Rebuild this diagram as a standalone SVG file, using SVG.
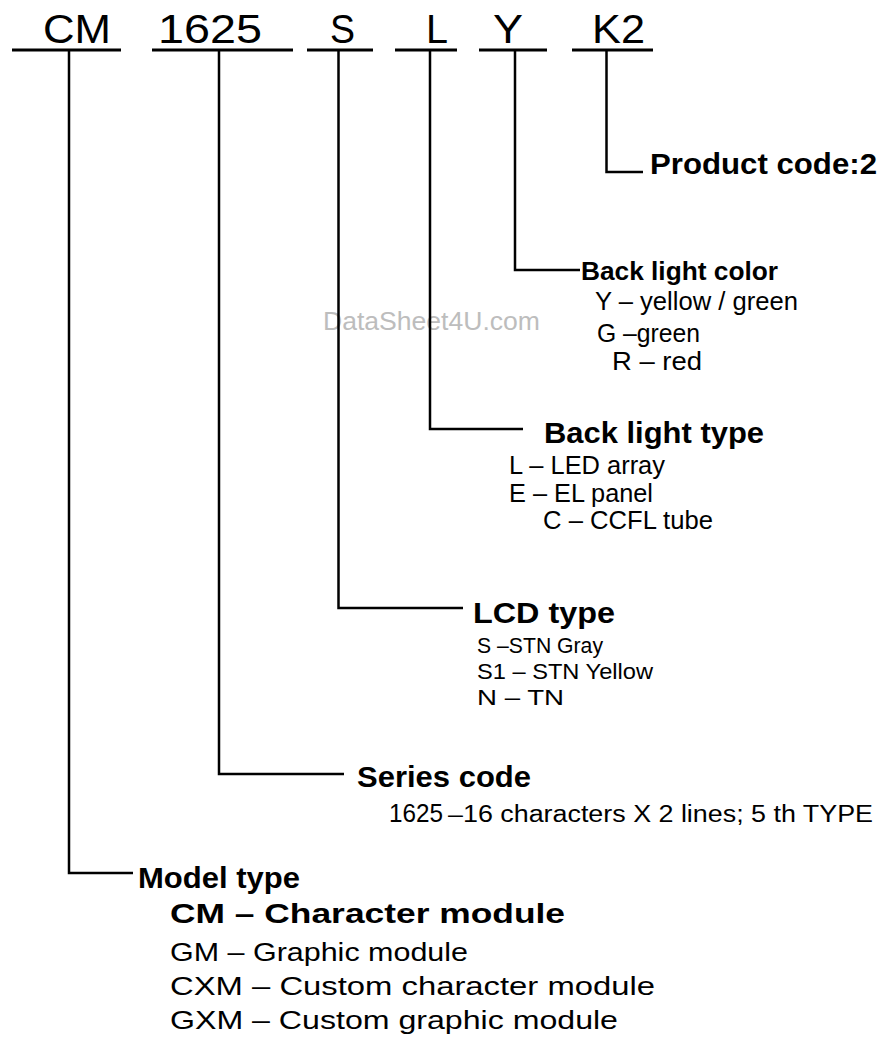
<svg xmlns="http://www.w3.org/2000/svg" width="880" height="1038" viewBox="0 0 880 1038">
<style>
text{font-family:"Liberation Sans",Arial,sans-serif;fill:#000}
.hd{font-size:41px}
.b{font-weight:bold}
.h1{font-size:29px;font-weight:bold}
.r{font-size:26px}
.s{font-size:22px}
.wm{font-size:26px;fill:#bdbdbd}
.ul{stroke:#000;stroke-width:3;fill:none}
.cn{stroke:#000;stroke-width:2.5;fill:none}
</style>
<rect width="880" height="1038" fill="#fff"/>
<g id="watermark"><text class="wm" x="323" y="330" textLength="217" lengthAdjust="spacingAndGlyphs">DataSheet4U.com</text></g>
<g id="header">
<text class="hd" x="43" y="43" textLength="68" lengthAdjust="spacingAndGlyphs">CM</text>
<text class="hd" x="158" y="43" textLength="104" lengthAdjust="spacingAndGlyphs">1625</text>
<text class="hd" x="330" y="43" textLength="25" lengthAdjust="spacingAndGlyphs">S</text>
<text class="hd" x="426" y="43" textLength="22" lengthAdjust="spacingAndGlyphs">L</text>
<text class="hd" x="493" y="43" textLength="30" lengthAdjust="spacingAndGlyphs">Y</text>
<text class="hd" x="592" y="43" textLength="53" lengthAdjust="spacingAndGlyphs">K2</text>
<line class="ul" x1="12" y1="50" x2="121" y2="50"/>
<line class="ul" x1="152" y1="50" x2="293" y2="50"/>
<line class="ul" x1="307" y1="50" x2="373" y2="50"/>
<line class="ul" x1="395" y1="50" x2="457" y2="50"/>
<line class="ul" x1="479" y1="50" x2="547" y2="50"/>
<line class="ul" x1="572" y1="50" x2="653" y2="50"/>
</g>
<g id="connectors">
<polyline class="cn" points="69,50 69,873 133,873"/>
<polyline class="cn" points="219,50 219,774 344,774"/>
<polyline class="cn" points="338.5,50 338.5,608 463,608"/>
<polyline class="cn" points="430,50 430,429 523,429"/>
<polyline class="cn" points="515,50 515,270 580,270"/>
<polyline class="cn" points="606.5,50 606.5,172 643,172"/>
</g>
<g id="product-code">
<text class="h1" x="650" y="174" textLength="227" lengthAdjust="spacingAndGlyphs">Product code:2</text>
</g>
<g id="back-light-color">
<text class="b" style="font-size:25px" x="581" y="280" textLength="197" lengthAdjust="spacingAndGlyphs">Back light color</text>
<text class="r" x="595" y="310" textLength="203" lengthAdjust="spacingAndGlyphs">Y – yellow / green</text>
<text class="r" x="597" y="342" textLength="103" lengthAdjust="spacingAndGlyphs">G –green</text>
<text class="r" x="612" y="370" textLength="90" lengthAdjust="spacingAndGlyphs">R – red</text>
</g>
<g id="back-light-type">
<text class="h1" x="544" y="443" textLength="220" lengthAdjust="spacingAndGlyphs">Back light type</text>
<text class="r" x="509" y="474" textLength="156" lengthAdjust="spacingAndGlyphs">L – LED array</text>
<text class="r" x="509" y="502" textLength="144" lengthAdjust="spacingAndGlyphs">E – EL panel</text>
<text class="r" x="543" y="529" textLength="170" lengthAdjust="spacingAndGlyphs">C – CCFL tube</text>
</g>
<g id="lcd-type">
<text class="h1" x="473" y="623" textLength="142" lengthAdjust="spacingAndGlyphs">LCD type</text>
<text class="s" x="477" y="653" textLength="126" lengthAdjust="spacingAndGlyphs">S –STN Gray</text>
<text class="s" x="477" y="679" textLength="176" lengthAdjust="spacingAndGlyphs">S1 – STN Yellow</text>
<text class="s" x="477" y="705" textLength="87" lengthAdjust="spacingAndGlyphs">N – TN</text>
</g>
<g id="series-code">
<text class="h1" x="357" y="787" textLength="174" lengthAdjust="spacingAndGlyphs">Series code</text>
<text class="r" x="389" y="822" textLength="54" lengthAdjust="spacingAndGlyphs">1625</text>
<text style="font-size:23px" x="448" y="822" textLength="425" lengthAdjust="spacingAndGlyphs">–16 characters X 2 lines; 5 th TYPE</text>
</g>
<g id="model-type">
<text class="h1" x="138" y="888" textLength="162" lengthAdjust="spacingAndGlyphs">Model type</text>
<text class="b" style="font-size:27px" x="170" y="923" textLength="395" lengthAdjust="spacingAndGlyphs">CM – Character module</text>
<text class="r" x="170" y="961" textLength="298" lengthAdjust="spacingAndGlyphs">GM – Graphic module</text>
<text class="r" x="170" y="995" textLength="485" lengthAdjust="spacingAndGlyphs">CXM – Custom character module</text>
<text class="r" x="170" y="1029" textLength="448" lengthAdjust="spacingAndGlyphs">GXM – Custom graphic module</text>
</g>
</svg>
